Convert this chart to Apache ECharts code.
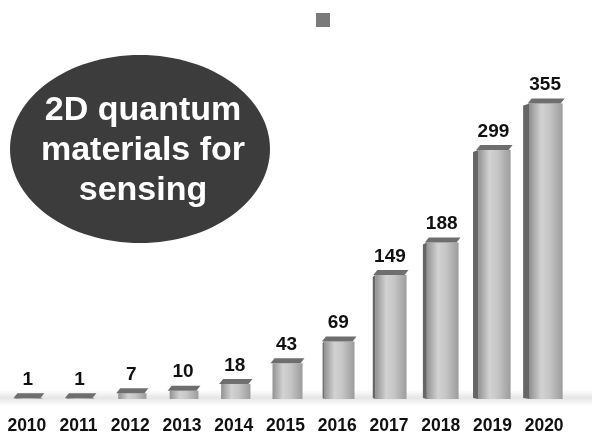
<!DOCTYPE html>
<html>
<head>
<meta charset="utf-8">
<style>
  html, body { margin: 0; padding: 0; background: #fff; }
  #chart { width: 592px; height: 437px; }
</style>
<script src="https://cdn.jsdelivr.net/npm/echarts@6/dist/echarts.min.js"></script>
</head>
<body>
<div id="chart"></div>
<script>
// Publications per year
const years = ['2010', '2011', '2012', '2013', '2014', '2015', '2016', '2017', '2018', '2019', '2020'];
const counts = [1, 1, 7, 10, 18, 43, 69, 149, 188, 299, 355];
const seriesName = 'Publications';
const badgeLines = ['2D quantum', 'materials for', 'sensing'];

const chart = echarts.init(document.getElementById('chart'));

// Each column: shaded cylinder-like body, a darker top cap, and the value above it.
function renderColumn(params, api) {
  const idx = api.value(0);
  const val = api.value(1);
  const top = api.coord([idx, val]);
  const base = api.coord([idx, 0]);
  const x = top[0] + 2;
  const w = 27 + idx * 0.6;
  const x0 = x - w / 2;
  const x1 = x + w / 2;
  const capH = 5;
  const capDx = 4;
  const sideW = idx > 5 ? (idx - 5) * 1.3 : 0;
  const bodyH = Math.max(base[1] - top[1], 0);
  const children = [];

  if (bodyH > 0.5) {
    children.push({
      type: 'rect',
      shape: { x: x0, y: top[1], width: w, height: bodyH },
      style: {
        fill: new echarts.graphic.LinearGradient(0, 0, 1, 0, [
          { offset: 0, color: '#929292' },
          { offset: 0.35, color: '#d2d2d2' },
          { offset: 0.6, color: '#c6c6c6' },
          { offset: 1, color: '#9c9c9c' }
        ])
      }
    });
    if (sideW > 0) {
      children.push({
        type: 'polygon',
        shape: { points: [[x0 - sideW, top[1] + 2], [x0, top[1]], [x0, base[1]], [x0 - sideW, base[1] - 1]] },
        style: { fill: '#666' }
      });
    }
  }
  children.push({
    type: 'polygon',
    shape: {
      points: [
        [x0 - capDx / 2, top[1]],
        [x1 - capDx / 2, top[1]],
        [x1 + capDx / 2, top[1] - capH],
        [x0 + capDx / 2, top[1] - capH]
      ]
    },
    style: { fill: '#6e6e6e' }
  });
  children.push({
    type: 'text',
    style: {
      text: String(val),
      x: x - 1,
      y: top[1] - capH - 4,
      align: 'center',
      verticalAlign: 'bottom',
      fill: '#111',
      font: 'bold 19px "Liberation Sans", Arial, sans-serif'
    }
  });
  return { type: 'group', children: children };
}

const option = {
  backgroundColor: '#ffffff',
  animation: false,
  legend: {
    top: 8,
    left: 311,
    itemWidth: 14,
    itemHeight: 14,
    icon: 'rect',
    formatter: () => '',
    data: [{ name: seriesName, itemStyle: { color: '#7a7a7a' } }]
  },
  grid: { left: 1, right: 22, top: 66, bottom: 38, containLabel: false },
  xAxis: {
    type: 'category',
    data: years,
    axisLine: { show: false },
    axisTick: { show: false },
    axisLabel: {
      margin: 18,
      color: '#111',
      fontWeight: 'bold',
      fontSize: 17.5,
      fontFamily: '"Liberation Sans", Arial, sans-serif'
    }
  },
  yAxis: {
    type: 'value',
    min: 0,
    max: 400,
    show: false,
    splitLine: { show: false }
  },
  graphic: [
    {
      type: 'rect',
      z: -1,
      shape: { x: 0, y: 390, width: 592, height: 16 },
      style: {
        fill: new echarts.graphic.LinearGradient(0, 0, 0, 1, [
          { offset: 0, color: 'rgba(0,0,0,0)' },
          { offset: 0.5, color: 'rgba(0,0,0,0.10)' },
          { offset: 1, color: 'rgba(0,0,0,0)' }
        ])
      }
    },
    {
      type: 'ellipse',
      shape: { cx: 140, cy: 149, rx: 130, ry: 94 },
      style: { fill: '#3c3c3c' }
    },
    {
      type: 'text',
      x: 143,
      y: 151,
      style: {
        text: badgeLines.join('\n'),
        align: 'center',
        verticalAlign: 'middle',
        fill: '#ffffff',
        font: 'bold 34px "Liberation Sans", Arial, sans-serif',
        lineHeight: 40
      }
    }
  ],
  series: [
    {
      name: seriesName,
      type: 'custom',
      itemStyle: { color: '#7a7a7a' },
      renderItem: renderColumn,
      encode: { x: 0, y: 1 },
      data: counts.map((v, i) => [i, v])
    }
  ]
};

chart.setOption(option);
</script>
</body>
</html>
